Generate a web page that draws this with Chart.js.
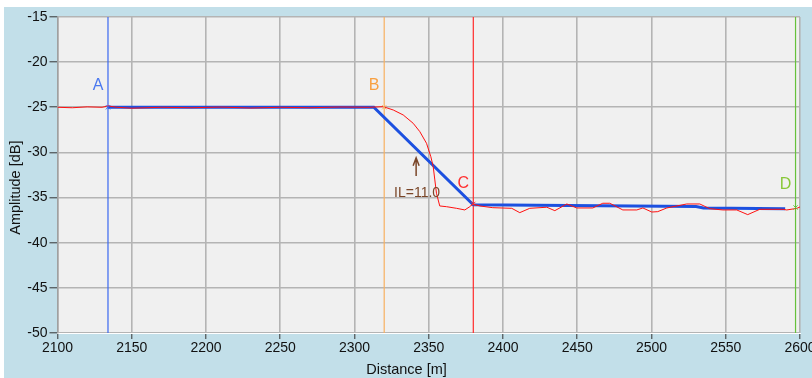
<!DOCTYPE html>
<html>
<head>
<meta charset="utf-8">
<script src="https://cdn.jsdelivr.net/npm/chart.js@4"></script>
<style>
html, body { margin: 0; padding: 0; background: #fff; }
</style>
</head>
<body>
<canvas id="otdrChart" width="812" height="378"></canvas>
<script>
// trace (red)
const traceDist = [2100, 2110, 2120, 2130, 2134, 2140, 2150, 2170, 2190, 2210, 2230, 2250, 2270, 2290, 2310, 2319.3,
  2326.1, 2332.8, 2339.5, 2344.0, 2348.5, 2351.4, 2353.0, 2354.1, 2355.2, 2357.4, 2362.0, 2368.7, 2374.3, 2377.7, 2379.5,
  2384.4, 2393.1, 2405.9, 2411.3, 2418.0, 2429.5, 2434.9, 2443.0, 2449.7, 2460.5, 2467.2, 2471.9, 2480.7, 2490.1, 2494.2,
  2500.2, 2504.2, 2510.3, 2523.7, 2532.5, 2539.2, 2548.0, 2557.4, 2564.8, 2572.9, 2581.6, 2588.4, 2591.1, 2597.8, 2600];
const traceDb = [-25.0, -25.05, -24.95, -25.0, -24.85, -25.0, -25.1, -25.0, -25.05, -24.98, -25.08, -25.0, -25.05, -24.97, -25.0, -24.93,
  -25.3, -25.85, -26.77, -27.7, -28.99, -30.47, -31.58, -33.05, -34.52, -35.93, -36.01, -36.19, -36.37, -36.0, -35.71,
  -35.93, -36.12, -36.19, -36.67, -36.19, -36.07, -36.45, -35.71, -36.15, -36.15, -35.63, -35.63, -36.37, -36.37, -36.15,
  -36.6, -36.56, -36.15, -35.71, -35.71, -36.23, -36.37, -36.37, -36.89, -36.3, -36.3, -36.3, -36.37, -36.2, -36.04];

// fitted line (blue)
const fitDist = [2134, 2313, 2380, 2530, 2535, 2590];
const fitDb = [-25.0, -25.0, -35.8, -36.0, -36.15, -36.25];

// cursors
const cursorNames = ['A', 'B', 'C', 'D'];
const cursorDist = [2134, 2320, 2380, 2597];
const cursorDb = [-25.0, -25.0, -35.7, -36.1];
const cursorLabelDb = [-22.6, -22.6, -33.4, -33.6];
const cursorColors = ['#3a68f0', '#f8b060', '#ff2a2a', '#66c23a'];
const cursorTextColors = ['#4a78f0', '#f8a040', '#ff3030', '#88c838'];

// loss annotation
const ilText = 'IL=11.0';
const ilDist = 2341.5;
const ilArrowTop = -30.6;
const ilArrowBottom = -32.6;
const ilTextDb = -34.5;

const xTicks = [2100, 2600, 50];
const yTicks = [-50, -15, 5];
const xTitle = 'Distance [m]';
const yTitle = 'Amplitude [dB]';

const tracePts = traceDist.map((d, i) => ({ x: d, y: traceDb[i] }));
const fitPts = fitDist.map((d, i) => ({ x: d, y: fitDb[i] }));

const font = { family: 'Liberation Sans', size: 14 };

const bgPlugin = {
    id: 'bg',
    beforeDraw(chart) {
        const { ctx, chartArea: a } = chart;
        ctx.save();
        ctx.fillStyle = '#ffffff';
        ctx.fillRect(0, 0, chart.width, chart.height);
        ctx.fillStyle = '#c2dfe9';
        ctx.fillRect(4, 7, chart.width - 4, chart.height - 7);
        ctx.fillStyle = '#f0f0f0';
        ctx.fillRect(a.left, a.top, a.right - a.left, a.bottom - a.top);
        ctx.fillStyle = '#ffffff';
        ctx.fillRect(a.left, a.bottom, a.right - a.left + 1, 1);
        // axis titles
        ctx.fillStyle = '#111';
        ctx.font = '14.5px "Liberation Sans"';
        ctx.textAlign = 'center';
        ctx.textBaseline = 'middle';
        ctx.fillText(xTitle, a.left + (a.right - a.left) * 0.47, chart.height - 8);
        ctx.translate(16, a.top + (a.bottom - a.top) * 0.54);
        ctx.rotate(-Math.PI / 2);
        ctx.fillText(yTitle, 0, 0);
        ctx.restore();
    }
};

const labelsPlugin = {
    id: 'labels',
    afterDatasetsDraw(chart) {
        const { ctx, scales: { x, y } } = chart;
        ctx.save();
        ctx.font = '16px "Liberation Sans"';
        ctx.textAlign = 'center';
        ctx.textBaseline = 'middle';
        cursorNames.forEach((n, i) => {
            ctx.fillStyle = cursorTextColors[i];
            ctx.fillText(n, x.getPixelForValue(cursorDist[i]) - 10, y.getPixelForValue(cursorLabelDb[i]));
        });
        // IL arrow
        const ax = x.getPixelForValue(ilDist);
        const t = y.getPixelForValue(ilArrowTop);
        const b = y.getPixelForValue(ilArrowBottom);
        ctx.strokeStyle = '#7a4628';
        ctx.lineWidth = 1.5;
        ctx.beginPath();
        ctx.moveTo(ax, b);
        ctx.lineTo(ax, t);
        ctx.moveTo(ax - 3, t + 8);
        ctx.lineTo(ax, t);
        ctx.lineTo(ax + 3, t + 8);
        ctx.stroke();
        ctx.fillStyle = '#7a4628';
        ctx.font = '14px "Liberation Sans"';
        ctx.fillText(ilText, ax + 1, y.getPixelForValue(ilTextDb));
        ctx.restore();
    }
};

const cursorSets = cursorNames.map((n, i) => ({
    label: n,
    data: [{ x: cursorDist[i], y: yTicks[1] }, { x: cursorDist[i], y: yTicks[0] }],
    showLine: true,
    borderColor: cursorColors[i],
    borderWidth: 1.2,
    pointRadius: 0
}));

new Chart(document.getElementById('otdrChart'), {
    type: 'scatter',
    data: {
        datasets: [
            {
                label: 'markers',
                data: cursorDist.map((d, i) => ({ x: d, y: cursorDb[i] })),
                pointStyle: 'crossRot',
                pointRadius: 3,
                borderWidth: 1,
                pointBorderColor: cursorColors,
                pointBackgroundColor: cursorColors
            },
            {
                label: 'trace',
                data: tracePts,
                showLine: true,
                borderColor: '#ff1010',
                borderWidth: 1,
                pointRadius: 0,
                tension: 0
            },
            {
                label: 'fit',
                data: fitPts,
                showLine: true,
                borderColor: '#1c50e0',
                borderWidth: 3,
                pointRadius: 0
            },
            ...cursorSets
        ]
    },
    plugins: [bgPlugin, labelsPlugin],
    options: {
        responsive: false,
        animation: false,
        layout: { padding: { top: 17, right: 12, left: 4, bottom: 0 } },
        plugins: { legend: { display: false }, tooltip: { enabled: false } },
        scales: {
            x: {
                type: 'linear',
                min: xTicks[0],
                max: xTicks[1],
                afterFit(s) { s.height = 45; s.paddingLeft = 0; s.paddingRight = 0; },
                ticks: { stepSize: xTicks[2], color: '#111', font, padding: 1, maxRotation: 0, callback: v => String(v) },
                grid: { color: '#b4b4b4', lineWidth: 1.6, tickColor: '#333', tickWidth: 1, tickLength: 6 },
                border: { color: '#ffffff', width: 1 }
            },
            y: {
                type: 'linear',
                min: yTicks[0],
                max: yTicks[1],
                afterFit(s) { s.width = 53.5; s.paddingTop = 0; s.paddingBottom = 0; },
                ticks: { stepSize: yTicks[2], color: '#111', font, padding: 2, callback: v => String(v) },
                grid: { color: '#b4b4b4', lineWidth: 1.6, tickColor: '#333', tickWidth: 1, tickLength: 8 },
                border: { color: '#a0a0a0', width: 1.5 }
            }
        }
    }
});
</script>
</body>
</html>
